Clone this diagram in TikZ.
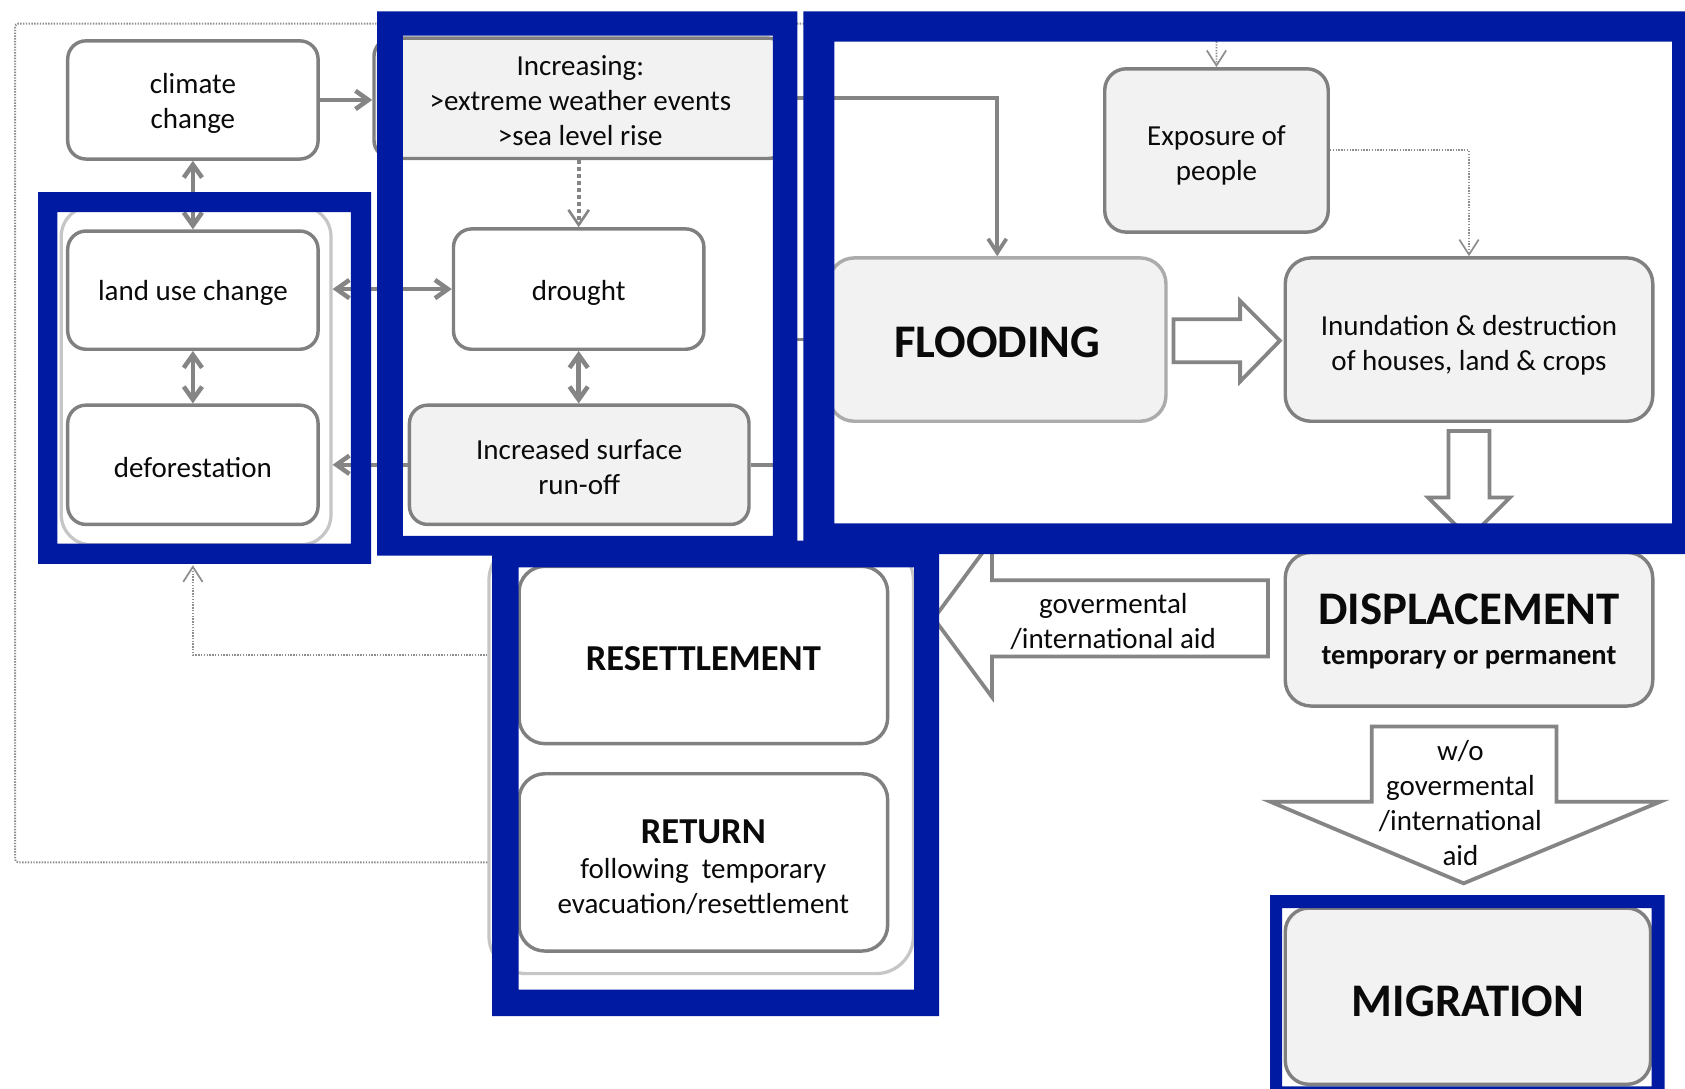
\documentclass[tikz,border=0pt]{standalone}
\usepackage{fontspec}
\setmainfont{Carlito}
\usetikzlibrary{arrows.meta,calc}
\definecolor{bgray}{HTML}{808080}
\definecolor{agray}{HTML}{858585}
\definecolor{lgray}{HTML}{F2F2F2}
\definecolor{cgray}{HTML}{C6C6C6}
\definecolor{fgray}{HTML}{ABABAB}
\definecolor{dgray}{HTML}{8E8E8E}
\definecolor{fblue}{HTML}{001BA1}
\definecolor{txt}{HTML}{0A0A0A}
\newcommand\fReg{\fontsize{27pt}{32.5pt}\selectfont}
\newcommand\fHuge{\fontsize{43.5pt}{48pt}\selectfont\bfseries}
\newcommand\fDisp{\fontsize{43.5pt}{37pt}\selectfont\bfseries}
\newcommand\fSub{\fontsize{26.5pt}{30pt}\selectfont\bfseries}
\newcommand\fMid{\fontsize{34pt}{38pt}\selectfont\bfseries}
\begin{document}
\begin{tikzpicture}[x=1pt,y=-1pt,line join=miter,
  tshift/.style={execute at begin node={\rule{0pt}{\dimexpr\fontcharht\font`I+#1\relax}}},
  box/.style={draw=bgray, line width=3.2pt, rounded corners=17pt, inner sep=0pt, align=center, text=txt, font=\fReg, fill=white, tshift=6pt},
  gbox/.style={box, fill=lgray},
  bigbox/.style={gbox, rounded corners=24pt},
  cont/.style={draw=cgray, line width=3pt, inner sep=0pt},
  thk/.style={draw=agray, line width=4.2pt, >={Straight Barb[length=12pt,width=17pt]}},
  midarr/.style={draw=agray, line width=3.5pt, >={Straight Barb[length=13pt,width=17pt]}},
  dotthk/.style={draw=agray, line width=3.8pt, dash pattern=on 3.5pt off 3pt, >={Straight Barb[length=14pt,width=19pt,line width=2.4pt]}},
  dotthin/.style={draw=dgray, line width=1.8pt, dash pattern=on 1.3pt off 1.3pt, >={Straight Barb[length=14pt,width=18pt,line width=1.6pt]}},
  block/.style={draw=agray, line width=3.5pt, fill=white, line join=miter},
  frame/.style={fill=fblue, even odd rule},
  lab/.style={text=txt, font=\fReg, align=center, inner sep=0pt}
]
\clip (0,0) rectangle (1568,1013);
\fill[white] (0,0) rectangle (1568,1013);

% containers
\node[cont, minimum width=251pt, minimum height=315pt, rounded corners=28pt] (grpL) at (182.5,349.5) {};
\node[cont, minimum width=395pt, minimum height=401pt, rounded corners=35pt] (grpR) at (652.5,705.5) {};

% boxes
\node[box, tshift=40.8pt, minimum width=233pt, minimum height=110pt] (cc) at (179.5,93) {climate\\change};
\node[gbox, tshift=71pt, minimum width=384pt, minimum height=112pt] (inc) at (540,91.5) {Increasing:\\>extreme weather events\\>sea level rise};
\node[box, minimum width=233pt, minimum height=110pt] (luc) at (179.5,270) {land use change};
\node[box, tshift=3pt, minimum width=233pt, minimum height=111pt] (def) at (179.5,432.5) {deforestation};
\node[box, tshift=8pt, minimum width=233pt, minimum height=112pt] (dr) at (538.5,269) {drought};
\node[gbox, tshift=37.8pt, minimum width=316pt, minimum height=111pt] (ro) at (539,432.5) {Increased surface\\run-off};
\node[bigbox, draw=fgray, font=\fHuge, tshift=4pt, minimum width=314pt, minimum height=152pt] (fl) at (928,316) {FLOODING};
\node[bigbox, tshift=42.8pt, rounded corners=20pt, minimum width=208pt, minimum height=152pt] (exp) at (1132,140) {Exposure of\\people};
\node[bigbox, tshift=43.8pt, minimum width=342pt, minimum height=152pt] (inu) at (1367,316) {Inundation \& destruction\\of houses, land \& crops};
\node[bigbox, font=\fDisp, tshift=41pt, minimum width=342pt, minimum height=143pt] (disp) at (1367,585.5) {DISPLACEMENT\\{\fSub temporary or permanent}};
\node[bigbox, font=\fHuge, tshift=10pt, rounded corners=22pt, minimum width=340pt, minimum height=164pt] (mig) at (1366,927) {MIGRATION};
\node[box, font=\fMid, tshift=7pt, rounded corners=24pt, minimum width=343pt, minimum height=165pt] (res) at (654.5,609.5) {RESETTLEMENT};
\node[box, tshift=78.6pt, rounded corners=24pt, minimum width=343pt, minimum height=165pt] (ret) at (654.5,802.5) {{\fMid RETURN}\\following\ \ temporary\\evacuation/resettlement};

% connectors
\draw[thk,->] (cc.east) -- (cc.east -| inc.west);
\draw[thk,<->] (cc.south) -- (luc.north);
\draw[thk,<->] (luc.south) -- (def.north);
\draw[thk,<->] (grpL.east |- dr.west) -- (dr.west);
\draw[dotthk,->] (inc.south -| dr.north) -- (dr.north);
\draw[thk,<->] (dr.south) -- (dr.south |- ro.north);
\draw[thk,->] (ro.west) -- (ro.west -| grpL.east);
\draw[midarr,->] (ro.east) -- ++(33,0) |- (fl.west);
\draw[midarr,->] (inc.east) -| (fl.north);

\coordinate (lpTL) at (14,22);
\coordinate (lpin) at (179.5,526);
\draw[dotthin,->,rounded corners=3pt] (grpR.west |- ret.west) -| (lpTL) -| (exp.north);
\draw[dotthin,->] (grpR.west |- res.west) -| (lpin);
\draw[dotthin,->] (exp.east) -| (inu.north);

% block arrows
\draw[block] (1092,297) -- (1154,297) -- (1154,280) -- (1191,317) -- (1154,355) -- (1154,337) -- (1092,337) -- cycle;
\draw[block] (1348,401) -- (1386,401) -- (1386,463) -- (1405,463) -- (1367,501) -- (1329,463) -- (1348,463) -- cycle;
\draw[block] (1180,540) -- (1180,611) -- (923,611) -- (923,648.5) -- (869,575.5) -- (923,502.5) -- (923,540) -- cycle;
\draw[block] (1276.5,676) -- (1448.5,676) -- (1448.5,746) -- (1545,746) -- (1362,822) -- (1182,746) -- (1276.5,746) -- cycle;

\node[lab] (aidL) at (1036,578) {govermental\\/international aid};
\node[lab] (aidD) at (1359,747) {w/o\\govermental\\/international\\aid};

% blue frames
\fill[frame] (35.4,178.7) rectangle (345.3,524.8) (53.5,197.3) rectangle (326.6,505.8);
\fill[frame] (351,10.6) rectangle (742,517) (374.8,33.2) rectangle (719.3,498.6);
\fill[frame] (747.5,10.6) rectangle (1575,515.6) (776.4,38.8) rectangle (1556,487);
\fill[frame] (458,503) rectangle (874,945.6) (482.5,528) rectangle (850.6,921);
\fill[frame] (1182,833) rectangle (1549,1020) (1193,845) rectangle (1537,1011);
\end{tikzpicture}
\end{document}
